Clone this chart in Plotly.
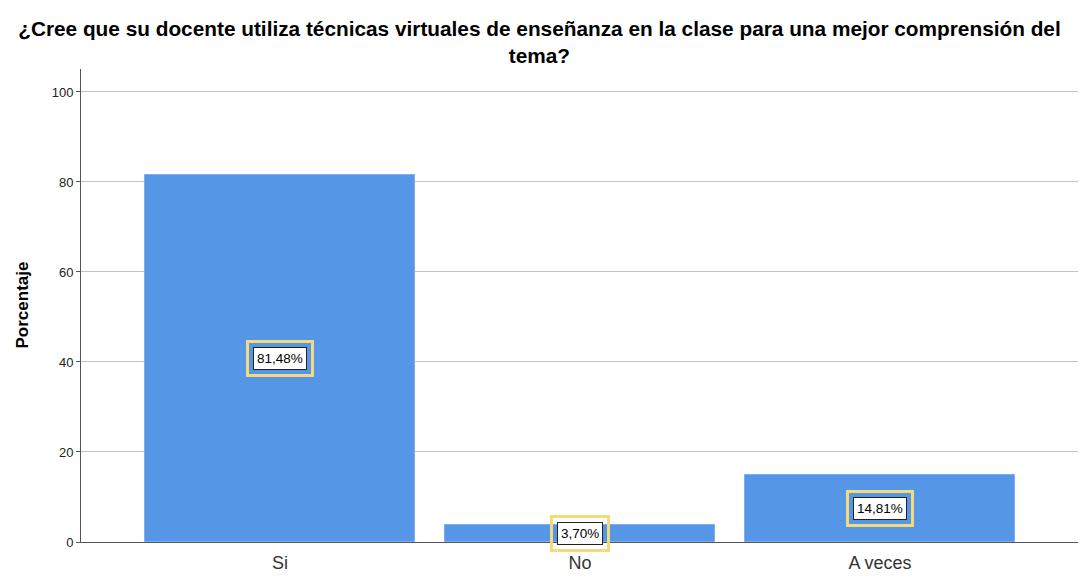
import plotly.graph_objects as go

categories = ["Si", "No", "A veces"]
percentages = [81.48, 3.70, 14.81]
label_texts = ["81,48%", "3,70%", "14,81%"]
y_ticks = [0, 20, 40, 60, 80, 100]

FONT = "Liberation Sans, Arial"
FIG_H = 573

fig = go.Figure()
fig.add_trace(go.Bar(
    x=categories, y=percentages, width=0.9,
    marker=dict(color="#5596e6", line=dict(color="#7aaeee", width=1)),
    hoverinfo="skip",
))

for cat, val, txt in zip(categories, percentages, label_texts):
    fig.add_annotation(x=cat, y=val / 2, text=txt, showarrow=False,
                       font=dict(family=FONT, size=13.5, color="rgba(0,0,0,0)"),
                       bgcolor="rgba(0,0,0,0)", bordercolor="#f5da7c", borderwidth=3, borderpad=8)
    fig.add_annotation(x=cat, y=val / 2, text=txt, showarrow=False,
                       font=dict(family=FONT, size=13.5, color="#000"),
                       bgcolor="white", bordercolor="#222", borderwidth=1, borderpad=3)

fig.add_annotation(xref="paper", yref="paper", x=0, y=0.5, xshift=-59, text="<b>Porcentaje</b>",
                   textangle=-90, showarrow=False, xanchor="center", yanchor="middle",
                   font=dict(family=FONT, size=17, color="#000"))

fig.update_layout(
    width=1078, height=FIG_H,
    paper_bgcolor="white", plot_bgcolor="white",
    margin=dict(l=73, r=6, t=61, b=39, autoexpand=False),
    showlegend=False,
    title=dict(text="¿Cree que su docente utiliza técnicas virtuales de enseñanza en la clase para una mejor comprensión del<br>tema?",
               x=0.493, xanchor="center", xref="container", yref="container", y=1 - 28 / FIG_H, yanchor="middle",
               font=dict(family=FONT, size=20.8, color="#000", weight="bold")),
    bargap=0,
)
fig.update_xaxes(range=[-0.663, 2.667], showline=True, linecolor="#555", linewidth=1, automargin=False,
                 ticks="", ticklabelstandoff=4, tickfont=dict(family=FONT, size=18, color="#333"),
                 showgrid=False, fixedrange=True)
fig.update_yaxes(range=[0, 105.1], tickvals=y_ticks, showline=True, linecolor="#555", linewidth=1,
                 automargin=False, ticks="outside", ticklen=4, tickcolor="#555",
                 tickfont=dict(family=FONT, size=13, color="#222"),
                 showgrid=True, gridcolor="#c4c4c4", gridwidth=1, zeroline=False)

fig.write_html("out.html")
